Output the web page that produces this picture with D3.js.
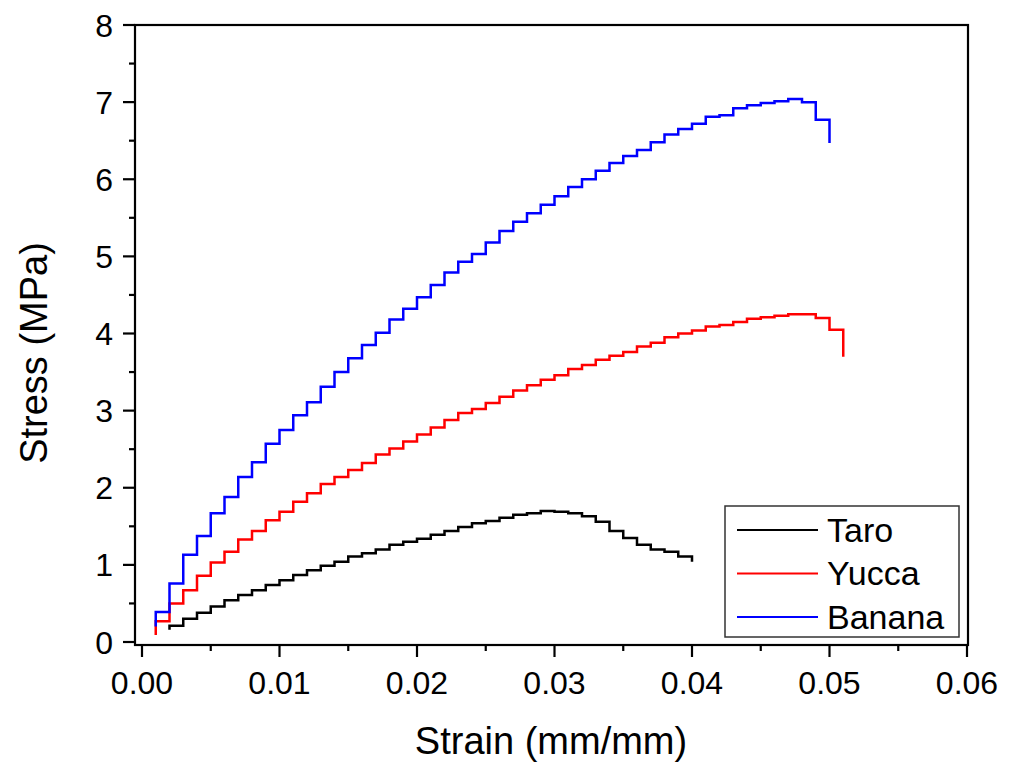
<!DOCTYPE html>
<html>
<head>
<meta charset="utf-8">
<script src="https://cdn.jsdelivr.net/npm/d3@7"></script>
<style>
    body { margin: 0; background: #fff; }
    svg { font-family: "Liberation Sans", Arial, sans-serif; }
</style>
</head>
<body>
<svg width="1012" height="762"></svg>
<script>
// Taro curve (strain in mm/mm, stress in MPa).
var taroStrain = [0.002, 0.002, 0.003, 0.004, 0.005, 0.006, 0.007, 0.008, 0.009, 0.010,
    0.011, 0.012, 0.013, 0.014, 0.015, 0.016, 0.017, 0.018, 0.019, 0.020,
    0.021, 0.022, 0.023, 0.024, 0.025, 0.026, 0.027, 0.028, 0.029, 0.030,
    0.031, 0.032, 0.033, 0.034, 0.035, 0.036, 0.037, 0.038, 0.039, 0.040];
var taroStress = [0.16, 0.21, 0.30, 0.38, 0.46, 0.54, 0.61, 0.67, 0.74, 0.80,
    0.87, 0.93, 0.99, 1.04, 1.11, 1.15, 1.20, 1.26, 1.30, 1.34,
    1.39, 1.44, 1.49, 1.54, 1.57, 1.61, 1.65, 1.67, 1.70, 1.69,
    1.67, 1.63, 1.56, 1.44, 1.35, 1.26, 1.20, 1.17, 1.11, 1.04];

// Yucca curve.
var yuccaStrain = [0.001, 0.001, 0.002, 0.003, 0.004, 0.005, 0.006, 0.007, 0.008, 0.009, 0.010,
    0.011, 0.012, 0.013, 0.014, 0.015, 0.016, 0.017, 0.018, 0.019, 0.020,
    0.021, 0.022, 0.023, 0.024, 0.025, 0.026, 0.027, 0.028, 0.029, 0.030,
    0.031, 0.032, 0.033, 0.034, 0.035, 0.036, 0.037, 0.038, 0.039, 0.040,
    0.041, 0.042, 0.043, 0.044, 0.045, 0.046, 0.047, 0.048, 0.049, 0.050, 0.051];
var yuccaStress = [0.09, 0.27, 0.50, 0.67, 0.86, 1.03, 1.17, 1.33, 1.44, 1.58, 1.69,
    1.82, 1.93, 2.05, 2.14, 2.23, 2.32, 2.43, 2.51, 2.60, 2.69,
    2.78, 2.88, 2.97, 3.02, 3.10, 3.18, 3.26, 3.33, 3.40, 3.46,
    3.54, 3.59, 3.66, 3.71, 3.76, 3.83, 3.88, 3.95, 4.00, 4.04,
    4.09, 4.11, 4.15, 4.19, 4.21, 4.23, 4.25, 4.25, 4.20, 4.05, 3.70];

// Banana curve.
var bananaStrain = [0.001, 0.001, 0.002, 0.003, 0.004, 0.005, 0.006, 0.007, 0.008, 0.009, 0.010,
    0.011, 0.012, 0.013, 0.014, 0.015, 0.016, 0.017, 0.018, 0.019, 0.020,
    0.021, 0.022, 0.023, 0.024, 0.025, 0.026, 0.027, 0.028, 0.029, 0.030,
    0.031, 0.032, 0.033, 0.034, 0.035, 0.036, 0.037, 0.038, 0.039, 0.040,
    0.041, 0.042, 0.043, 0.044, 0.045, 0.046, 0.047, 0.048, 0.049, 0.050];
var bananaStress = [0.20, 0.39, 0.76, 1.13, 1.375, 1.67, 1.88, 2.14, 2.33, 2.57, 2.75,
    2.94, 3.11, 3.31, 3.50, 3.68, 3.85, 4.01, 4.18, 4.32, 4.47,
    4.63, 4.79, 4.93, 5.03, 5.18, 5.33, 5.45, 5.56, 5.67, 5.78,
    5.90, 6.00, 6.11, 6.21, 6.30, 6.38, 6.48, 6.58, 6.65, 6.72,
    6.81, 6.83, 6.92, 6.96, 6.99, 7.01, 7.04, 7.00, 6.77, 6.47];

var seriesNames = ["Taro", "Yucca", "Banana"];
var seriesColors = ["#000000", "#ff0000", "#0000ff"];

var xTicks = [0, 0.01, 0.02, 0.03, 0.04, 0.05, 0.06];
var xMinorTicks = [0.005, 0.015, 0.025, 0.035, 0.045, 0.055];
var yTicks = [0, 1, 2, 3, 4, 5, 6, 7, 8];
var yMinorTicks = [0.5, 1.5, 2.5, 3.5, 4.5, 5.5, 6.5, 7.5];

var svg = d3.select("svg");

// Frame of the plot area.
var frameLeft = 135, frameRight = 968, frameTop = 25, frameBottom = 645;

var x = d3.scaleLinear().domain([0, 0.06]).range([142, 967]);
var y = d3.scaleLinear().domain([0, 8]).range([642, 25]);

function zip(xs, ys) {
    return xs.map(function(v, i) { return [v, ys[i]]; });
}

var series = [
    zip(taroStrain, taroStress),
    zip(yuccaStrain, yuccaStress),
    zip(bananaStrain, bananaStress)
];

// Curves are drawn as steps, like the recorded data.
var line = d3.line()
    .x(function(d) { return x(d[0]); })
    .y(function(d) { return y(d[1]); })
    .curve(d3.curveStepAfter);

svg.append("g").selectAll("path")
    .data(series)
    .enter().append("path")
    .attr("d", line)
    .attr("fill", "none")
    .attr("stroke", function(d, i) { return seriesColors[i]; })
    .attr("stroke-width", 2.5);

svg.append("rect")
    .attr("x", frameLeft)
    .attr("y", frameTop)
    .attr("width", frameRight - frameLeft)
    .attr("height", frameBottom - frameTop)
    .attr("fill", "none")
    .attr("stroke", "#000")
    .attr("stroke-width", 2.2);

// Bottom axis: major and minor ticks pointing out.
var xAxis = svg.append("g");
xAxis.selectAll("line.major")
    .data(xTicks)
    .enter().append("line")
    .attr("class", "major")
    .attr("x1", function(d) { return x(d); })
    .attr("x2", function(d) { return x(d); })
    .attr("y1", frameBottom)
    .attr("y2", frameBottom + 12)
    .attr("stroke", "#000")
    .attr("stroke-width", 2.2);
xAxis.selectAll("line.minor")
    .data(xMinorTicks)
    .enter().append("line")
    .attr("class", "minor")
    .attr("x1", function(d) { return x(d); })
    .attr("x2", function(d) { return x(d); })
    .attr("y1", frameBottom)
    .attr("y2", frameBottom + 6)
    .attr("stroke", "#000")
    .attr("stroke-width", 2.2);
xAxis.selectAll("text")
    .data(xTicks)
    .enter().append("text")
    .attr("x", function(d) { return x(d); })
    .attr("y", 694)
    .attr("text-anchor", "middle")
    .attr("font-size", 32)
    .text(d3.format(".2f"));

// Left axis.
var yAxis = svg.append("g");
yAxis.selectAll("line.major")
    .data(yTicks)
    .enter().append("line")
    .attr("class", "major")
    .attr("x1", frameLeft - 12)
    .attr("x2", frameLeft)
    .attr("y1", function(d) { return y(d); })
    .attr("y2", function(d) { return y(d); })
    .attr("stroke", "#000")
    .attr("stroke-width", 2.2);
yAxis.selectAll("line.minor")
    .data(yMinorTicks)
    .enter().append("line")
    .attr("class", "minor")
    .attr("x1", frameLeft - 6)
    .attr("x2", frameLeft)
    .attr("y1", function(d) { return y(d); })
    .attr("y2", function(d) { return y(d); })
    .attr("stroke", "#000")
    .attr("stroke-width", 2.2);
yAxis.selectAll("text")
    .data(yTicks)
    .enter().append("text")
    .attr("x", 113)
    .attr("y", function(d) { return y(d); })
    .attr("dy", "0.36em")
    .attr("text-anchor", "end")
    .attr("font-size", 32)
    .text(function(d) { return d; });

// Axis titles.
svg.append("text")
    .attr("x", 551)
    .attr("y", 754)
    .attr("text-anchor", "middle")
    .attr("font-size", 38)
    .text("Strain (mm/mm)");

svg.append("text")
    .attr("transform", "translate(47,353) rotate(-90)")
    .attr("text-anchor", "middle")
    .attr("font-size", 38)
    .text("Stress (MPa)");

// Legend box in the lower right corner.
var legend = svg.append("g");
legend.append("rect")
    .attr("x", 725)
    .attr("y", 506)
    .attr("width", 234)
    .attr("height", 131)
    .attr("fill", "#fff")
    .attr("stroke", "#333")
    .attr("stroke-width", 1.5);

var legendRows = legend.selectAll("g.row")
    .data(seriesNames)
    .enter().append("g")
    .attr("class", "row")
    .attr("transform", function(d, i) { return "translate(0," + (530 + i * 43.5) + ")"; });

legendRows.append("line")
    .attr("x1", 737)
    .attr("x2", 818)
    .attr("stroke", function(d, i) { return seriesColors[i]; })
    .attr("stroke-width", 2);

legendRows.append("text")
    .attr("x", 827)
    .attr("dy", "0.35em")
    .attr("font-size", 34)
    .text(function(d) { return d; });
</script>
</body>
</html>
